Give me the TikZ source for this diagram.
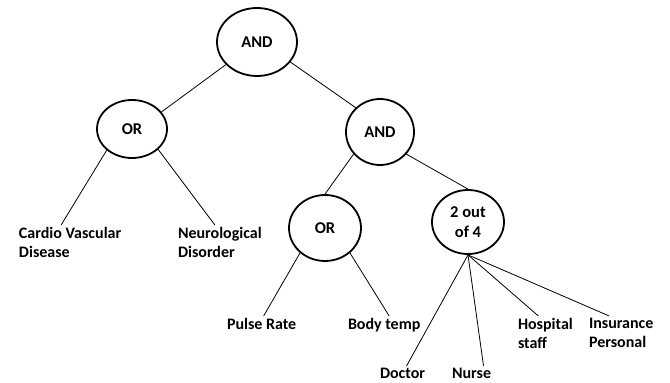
\documentclass[tikz,border=0pt]{standalone}
\usepackage{fontspec}
\setmainfont{Carlito}
\usetikzlibrary{shapes.geometric}

\begin{document}
\begin{tikzpicture}[
    x=1pt, y=1pt,
    font=\fontsize{16}{19.5}\selectfont\bfseries,
    gate/.style={draw, ellipse, line width=1.8pt, inner sep=0pt, align=center, font=\fontsize{16.5}{20}\selectfont\bfseries},
    leaf/.style={anchor=north west, align=left, inner sep=0pt, outer sep=2pt},
    ln/.style={line width=0.8pt}
]
\useasboundingbox (0,0) rectangle (670,383);
% gates
\node[gate, minimum width=80pt, minimum height=68pt] (and1) at (257,341) {AND};
\node[gate, minimum width=70pt, minimum height=58pt] (or1) at (132,254) {OR};
\node[gate, minimum width=68pt, minimum height=66pt] (and2) at (380,251) {AND};
\node[gate, minimum width=72pt, minimum height=66pt] (or2) at (325,155) {OR};
\node[gate, minimum width=72pt, minimum height=64pt] (kofn) at (468,161) {2 out\\of 4};
% leaves
\node[leaf] (cvd) at (17,158) {Cardio Vascular\\Disease};
\node[leaf] (neuro) at (176,158) {Neurological\\Disorder};
\node[leaf] (pulse) at (225,67) {Pulse Rate};
\node[leaf] (body) at (346,67) {Body temp};
\node[leaf] (hosp) at (516,67) {Hospital\\staff};
\node[leaf] (ins) at (587,67) {Insurance\\Personal};
\node[leaf] (doc) at (378,17) {Doctor};
\node[leaf] (nurse) at (450,17) {Nurse};
% connectors
\draw[ln] (and1.216) -- (or1.30);
\draw[ln] (and1.329) -- (and2.135);
\draw[ln] (or1.220) -- ([xshift=-9pt]cvd.north);
\draw[ln] (or1.322) -- ([xshift=-5pt]neuro.north);
\draw[ln] (and2.220) -- (or2.north);
\draw[ln] (and2.320) -- (kofn.north);
\draw[ln] (or2.225) -- ([xshift=2pt]pulse.north);
\draw[ln] (or2.315) -- ([xshift=5pt]body.north);
\draw[ln] (kofn.south) -- ([xshift=4pt]doc.north);
\draw[ln] (kofn.south) -- ([xshift=12pt]nurse.north);
\draw[ln] (kofn.south) -- ([xshift=-7pt]hosp.north);
\draw[ln] (kofn.south) -- ([xshift=-12pt]ins.north);
\end{tikzpicture}
\end{document}
